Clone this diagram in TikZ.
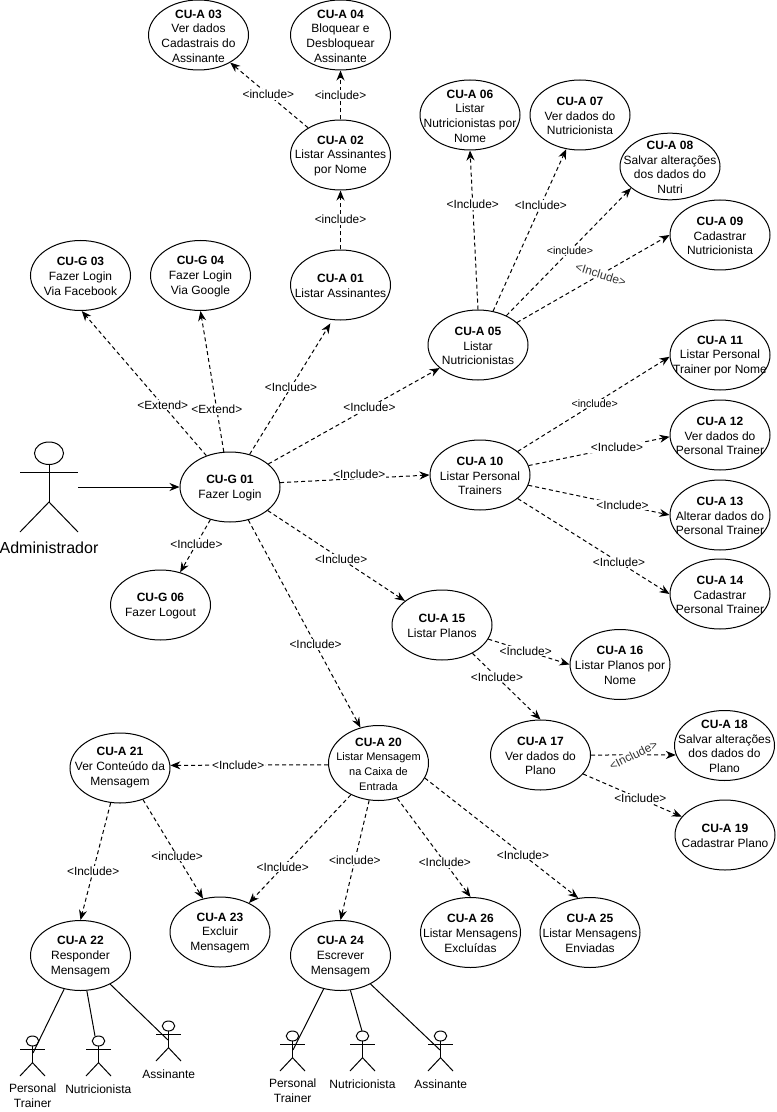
\documentclass[tikz,border=0pt]{standalone}
\usepackage{fontspec}
\setmainfont{Liberation Sans}
\usetikzlibrary{shapes.geometric,arrows.meta}

\newcommand{\cutxt}[2]{\makebox[0pt]{\smash{\raisebox{-3pt}{\parbox[c]{130pt}{\centering\textbf{#1}\\#2}}}}}
% x, top y, width, height
\newcommand{\actorfig}[4]{%
\draw (#1,#2+#4/8) circle [x radius=#3/4, y radius=#4/8];
\draw (#1,#2+#4/4) -- (#1,#2+#4*2/3);
\draw (#1-#3/2,#2+#4/3) -- (#1+#3/2,#2+#4/3);
\draw (#1-#3/2,#2+#4) -- (#1,#2+#4*2/3) -- (#1+#3/2,#2+#4);
}

\tikzset{
  ucase/.style={draw,ellipse,fill=white,inner sep=0pt,minimum width=75pt,minimum height=52.5pt,font=\fontsize{9}{11}\selectfont},
  inc/.style={dash pattern=on 3pt off 2.25pt,-{Stealth[length=7.5pt,width=6pt]}},
  lbl/.style={fill=white,inner sep=0.6pt,font=\fontsize{8.9}{10}\selectfont},
  lblsm/.style={lbl,font=\fontsize{8}{9}\selectfont},
  actlbl/.style={align=center,inner sep=0pt,font=\fontsize{9}{11}\selectfont},
}

\begin{document}
\begin{tikzpicture}[x=0.75pt,y=0.75pt,yscale=-1,xscale=1,line width=0.75pt]
\path [fill=white,use as bounding box] (0,0) rectangle (776,1112);

% use cases
\node [ucase] (cug01) at (230,487) {\cutxt{CU-G 01}{Fazer Login}};
\node [ucase] (cug03) at (80.5,275.5) {\cutxt{CU-G 03}{Fazer Login\\Via Facebook}};
\node [ucase] (cug04) at (200.5,275.5) {\cutxt{CU-G 04}{Fazer Login\\Via Google}};
\node [ucase] (cug06) at (160.5,605) {\cutxt{CU-G 06}{Fazer Logout}};
\node [ucase] (cua01) at (340.5,285) {\cutxt{CU-A 01}{Listar Assinantes}};
\node [ucase] (cua02) at (340.5,155) {\cutxt{CU-A 02}{Listar Assinantes\\por Nome}};
\node [ucase] (cua03) at (198.5,35) {\cutxt{CU-A 03}{Ver dados\\Cadastrais do\\Assinante}};
\node [ucase] (cua04) at (340.5,35) {\cutxt{CU-A 04}{Bloquear e\\Desbloquear\\Assinante}};
\node [ucase] (cua05) at (478,345) {\cutxt{CU-A 05}{Listar\\Nutricionistas}};
\node [ucase] (cua06) at (470,115) {\cutxt{CU-A 06}{Listar\\Nutricionistas por\\Nome}};
\node [ucase] (cua07) at (580,115) {\cutxt{CU-A 07}{Ver dados do\\Nutricionista}};
\node [ucase,minimum height=50pt] (cua08) at (670,166.5) {\cutxt{CU-A 08}{Salvar alterações\\dos dados do\\Nutri}};
\node [ucase] (cua09) at (720,235) {\cutxt{CU-A 09}{Cadastrar\\Nutricionista}};
\node [ucase] (cua10) at (480,475) {\cutxt{CU-A 10}{Listar Personal\\Trainers}};
\node [ucase] (cua11) at (720,355) {\cutxt{CU-A 11}{Listar Personal\\Trainer por Nome}};
\node [ucase] (cua12) at (720,435) {\cutxt{CU-A 12}{Ver dados do\\Personal Trainer}};
\node [ucase] (cua13) at (720,515) {\cutxt{CU-A 13}{Alterar dados do\\Personal Trainer}};
\node [ucase] (cua14) at (720,594) {\cutxt{CU-A 14}{Cadastrar\\Personal Trainer}};
\node [ucase] (cua15) at (442,625) {\cutxt{CU-A 15}{Listar Planos}};
\node [ucase] (cua16) at (620,664.5) {\cutxt{CU-A 16}{Listar Planos por\\Nome}};
\node [ucase] (cua17) at (540.5,755) {\cutxt{CU-A 17}{Ver dados do\\Plano}};
\node [ucase] (cua18) at (724.5,745.5) {\cutxt{CU-A 18}{Salvar alterações\\dos dados do\\Plano}};
\node [ucase] (cua19) at (725,835) {\cutxt{CU-A 19}{Cadastrar Plano}};
\node [ucase,minimum height=56.25pt] (cua20) at (378.5,763) {\cutxt{CU-A 20}{\fontsize{8.25}{11}\selectfont Listar Mensagem\\na Caixa de\\Entrada}};
\node [ucase] (cua21) at (120,768) {\raisebox{2.2pt}{\cutxt{CU-A 21}{Ver Conteúdo da\\Mensagem}}};
\node [ucase] (cua22) at (80.5,955.5) {\cutxt{CU-A 22}{Responder\\Mensagem}};
\node [ucase] (cua23) at (220,932) {\cutxt{CU-A 23}{Excluir\\Mensagem}};
\node [ucase] (cua24) at (340.5,955.5) {\cutxt{CU-A 24}{Escrever\\Mensagem}};
\node [ucase] (cua25) at (590,932.5) {\cutxt{CU-A 25}{Listar Mensagens\\Enviadas}};
\node [ucase] (cua26) at (470.5,932.5) {\cutxt{CU-A 26}{Listar Mensagens\\Excluídas}};

% actors
\actorfig{49}{442}{58}{90}
\actorfig{32.5}{1036}{25}{40}
\actorfig{98.5}{1036}{25}{40}
\actorfig{168.5}{1021}{25}{40}
\actorfig{292.5}{1031}{25}{40}
\actorfig{362.5}{1031}{25}{40}
\actorfig{440.5}{1031}{25}{40}

\coordinate (adm) at (78,487);
\coordinate (pers22) at (33,1053);
\coordinate (nutr22) at (95,1036);
\coordinate (assi22) at (168,1040);
\coordinate (pers24) at (293,1050);
\coordinate (nutr24) at (362,1031);
\coordinate (assi24) at (440,1050);

\node [align=center,inner sep=0pt,font=\fontsize{12}{14}\selectfont] (ladm) at (49,547.5) {Administrador};
\node [actlbl] (lpers22) at (32.7,1095.5) {Personal\\Trainer};
\node [actlbl] (lnutr22) at (98.3,1089) {Nutricionista};
\node [actlbl] (lassi22) at (168.8,1074) {Assinante};
\node [actlbl] (lpers24) at (292.7,1090.5) {Personal\\Trainer};
\node [actlbl] (lnutr24) at (362.5,1084) {Nutricionista};
\node [actlbl] (lassi24) at (440.8,1084) {Assinante};

% solid lines
\draw [-{Stealth[length=7.5pt,width=6pt]}] (adm) -- (cug01.west);
\draw (cua22) -- (pers22);
\draw (cua22) -- (nutr22);
\draw (cua22) -- (assi22);
\draw (cua24) -- (pers24);
\draw (cua24) -- (nutr24);
\draw (cua24) -- (assi24);

% from login
\draw [inc] (cug01.127) -- node [lbl,pos=.35] (l01) {<Extend>} (cug03.-88);
\draw [inc] (cug01.100) -- node [lbl,pos=.30] (l02) {<Extend>} (cug04.south);
\draw [inc,shorten >=3pt] (cug01.59) -- node [lbl,pos=.5] (l03) {<Include>} (cua01.-103);
\draw [inc] (cug01.31) -- node [lbl,pos=.59] (l04) {<Include>} (cua05.211);
\draw [inc] (cug01.5) -- node [lbl,pos=.53,yshift=3.4pt] (l05) {<Include>} (cua10.west);
\draw [inc] (cug01.-32) -- node [lbl,pos=.535] (l06) {<Include>} (cua15.147);
\draw [inc] (cug01.-61) -- node [lbl,pos=.6] (l07) {<Include>} (cua20.117);
\draw [inc] (cug01.239) -- node [lbl,pos=.46] (l08) {<Include>} (cug06.59);

% assinantes
\draw [inc] (cua01.north) -- node [lbl,pos=.51] (l09) {<include>} (cua02.south);
\draw [inc] (cua02.140) -- node [lbl,pos=.51] (l10) {<include>} (cua03.-41);
\draw [inc] (cua02.north) -- node [lbl,pos=.5] (l11) {<include>} (cua04.south);

% nutricionistas
\draw [inc] (cua05.north) -- node [lbl,pos=.66] (l12) {<Include>} (cua06.south);
\draw [inc] (cua05.66) -- node [lbl,pos=.653] (l13) {<Include>} (cua07.-112);
\draw [inc] (cua05.46) -- node [lblsm,pos=.51] (l14) {<include>} (cua08.-151);
\draw [inc] (cua05.30) -- node [lbl,pos=.55,rotate=-17,text=black!80] (l15) {<Include>} (cua09.west);

% personal
\draw [inc] (cua10.32) -- node [lblsm,pos=.507] (l16) {<include>} (cua11.182);
\draw [inc] (cua10.11.5) -- node [lbl,pos=.627] (l17) {<Include>} (cua12.182);
\draw [inc] (cua10.-12.5) -- node [lbl,pos=.667] (l18) {<Include>} (cua13.west);
\draw [inc] (cua10.-32) -- node [lbl,pos=.667] (l19) {<Include>} (cua14.west);

% planos
\draw [inc] (cua15.-17) -- node [lbl,pos=.46] (l20) {<Include>} (cua16.west);
\draw [inc] (cua15.-43) -- node [lbl,pos=.36] (l21) {<Include>} (cua17.north);
\draw [inc] (cua17.east) -- node [lbl,pos=.5,rotate=27,text=black!80] (l22) {<Include>} (cua18.191);
\draw [inc] (cua17.-24) -- node [lbl,pos=.58] (l23) {<Include>} (cua19.157);

% mensagens
\draw [inc] (cua20.182) -- node [lbl,pos=.57] (l24) {<Include>} (cua21.3);
\draw [inc] (cua20.-131) -- node [lbl,pos=.67] (l25) {<Include>} (cua23.45);
\draw [inc] (cua20.-104) -- node [lbl,pos=.5] (l26) {<include>} (cua24.north);
\draw [inc] (cua20.-62) -- node [lbl,pos=.65] (l27) {<Include>} (cua26.north);
\draw [inc] (cua20.-18) -- node [lbl,pos=.64] (l28) {<Include>} (cua25.109);
\draw [inc] (cua21.-105) -- node [lbl,pos=.58] (l29) {<Include>} (cua22.north);
\draw [inc] (cua21.-54) -- node [lbl,pos=.57] (l30) {<include>} (cua23.117);

\end{tikzpicture}
\end{document}
